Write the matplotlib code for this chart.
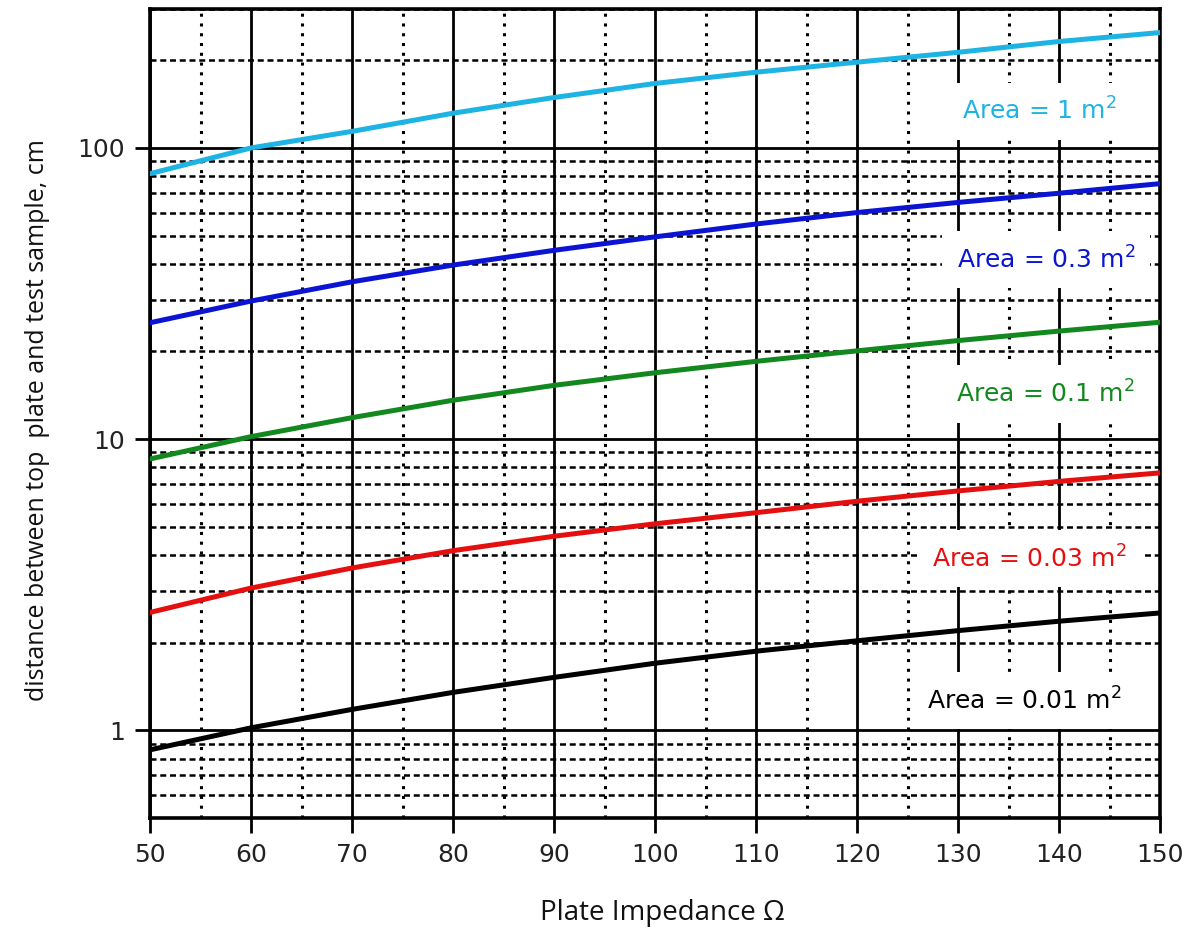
import numpy as np
import matplotlib
matplotlib.use("Agg")
import matplotlib.pyplot as plt
from matplotlib.ticker import FixedLocator, MultipleLocator, LogLocator, NullFormatter

plt.rcParams["font.family"] = ["DejaVu Sans"]
plt.rcParams["mathtext.fontset"] = "dejavusans"

# Plate impedance (ohm) and the read-off distances (cm) for each plate area
impedance = [50, 60, 70, 80, 90, 100, 110, 120, 130, 140, 150]
dist_1 = [81.6, 100, 114, 131.6, 149, 166.5, 182, 197, 213, 232, 249]
dist_03 = [25.1, 29.8, 34.7, 39.6, 44.5, 49.5, 54.8, 60.0, 65.0, 69.9, 75.4]
dist_01 = [8.55, 10.2, 11.85, 13.6, 15.3, 16.9, 18.5, 20.1, 21.8, 23.5, 25.2]
dist_003 = [2.54, 3.08, 3.61, 4.14, 4.64, 5.12, 5.59, 6.12, 6.64, 7.16, 7.66]
dist_001 = [0.857, 1.02, 1.18, 1.35, 1.52, 1.70, 1.87, 2.03, 2.20, 2.37, 2.53]

labels = ["1", "0.3", "0.1", "0.03", "0.01"]
series = [dist_1, dist_03, dist_01, dist_003, dist_001]
colors = ["#1db3e3", "#0a14d2", "#12881e", "#e60f0f", "#000000"]
# label anchor points (x in ohm, y in cm)
label_x = [138.1, 138.7, 138.6, 137.1, 136.6]
label_y = [133.6, 41.3, 14.3, 3.88, 1.265]

x_ticks = list(range(50, 151, 10))
y_ticks = [1, 10, 100]

fig = plt.figure(figsize=(11.95, 9.40), dpi=100)
ax = fig.add_axes([150 / 1195, 1 - 818 / 940, 1010 / 1195, 809 / 940])

ax.set_yscale("log")
ax.set_xlim(50, 150)
ax.set_ylim(0.5, 300)

ax.xaxis.set_major_locator(FixedLocator(x_ticks))
ax.xaxis.set_minor_locator(MultipleLocator(5))
ax.yaxis.set_major_locator(FixedLocator(y_ticks))
ax.yaxis.set_minor_locator(LogLocator(base=10, subs=range(2, 10)))
ax.yaxis.set_minor_formatter(NullFormatter())
ax.set_xticklabels([str(v) for v in x_ticks])
ax.set_yticklabels([str(v) for v in y_ticks])

ax.grid(True, which="major", axis="both", color="black", lw=2.0, ls="-", zorder=1)
ax.grid(True, which="minor", axis="x", color="black", lw=2.2, ls=(0, (1, 2.2)))
ax.grid(True, which="minor", axis="y", color="black", lw=1.8, ls=(0, (2.4, 1.5)))
ax.set_axisbelow(True)

ax.tick_params(which="major", direction="out", length=11, width=2.0,
               labelsize=18, pad=7, colors="black", labelcolor="#222222")
ax.tick_params(which="minor", length=0)
ax.tick_params(top=False, right=False)
for sp in ax.spines.values():
    sp.set_linewidth(2.6)
    sp.set_color("black")

for vals, col, lab, tx, ty in zip(series, colors, labels, label_x, label_y):
    ax.plot(impedance, vals, color=col, lw=3.6, zorder=5)
    ax.text(tx, ty, r"Area = %s m$^{\mathregular{2}}$" % lab, color=col,
            fontsize=18, ha="center", va="center", zorder=4,
            bbox=dict(boxstyle="square,pad=0.6", fc="white", ec="none"))

fig.text(38 / 1195, 1 - 420 / 940, "distance between top  plate and test sample, cm",
         rotation=90, ha="center", va="center", fontsize=18, family="Open Sans",
         color="#111111")
fig.text(662 / 1195, 1 - 913 / 940, "Plate Impedance \u03a9", ha="center",
         va="center", fontsize=20, family="Open Sans", color="#111111")

fig.savefig("out.png", dpi=100, facecolor="white")
